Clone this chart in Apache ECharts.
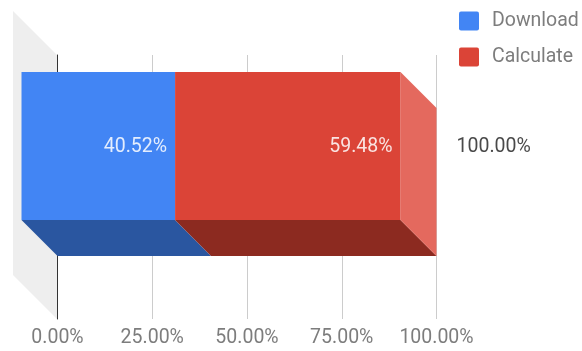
<!DOCTYPE html>
<html>
<head>
<meta charset="utf-8">
<style>html,body{margin:0;padding:0;background:#fff}#c{width:582px;height:351px}</style>
<script src="https://cdn.jsdelivr.net/npm/echarts@6/dist/echarts.min.js"></script>
</head>
<body>
<div id="c"></div>
<script>
var categories = ['Time'];
var downloadValues = [40.52];
var calculateValues = [59.48];
var totalValues = [100];
var tickLabels = ['0.00%', '25.00%', '50.00%', '75.00%', '100.00%'];
var tickValues = [0, 25, 50, 75, 100];

var FONT = 'Roboto';
var FS = 19.5;
var DEPTH = 36, WALL = 44, BAR_RATIO = 148 / 264, BAR_SHIFT = -5;
var LEGEND_ICON = 'path://M2 0H18A2 2 0 0 1 20 2V17A2 2 0 0 1 18 19H2A2 2 0 0 1 0 17V2A2 2 0 0 1 2 0Z';

function pct(v) { return v.toFixed(2) + '%'; }

function boxGeom(api, start, end) {
  var x0 = api.coord([start, 0])[0];
  var x1 = api.coord([end, 0])[0];
  var cy = api.coord([0, 0])[1];
  var h = api.size([0, 1])[1] * BAR_RATIO;
  var backTop = cy + BAR_SHIFT - h / 2;
  var backBottom = backTop + h;
  return { x0: x0, x1: x1, backTop: backTop, backBottom: backBottom, h: h };
}

function segment(name, color, bottomColor, sideColor, values, isLast) {
  return {
    type: 'custom', name: name, coordinateSystem: 'cartesian2d', clip: false, z: 3,
    itemStyle: { color: color },
    encode: { x: 1, y: 2 },
    data: values.map(function (v, i) {
      var start = isLast ? downloadValues[i] : 0;
      return [start, start + v, i, v, totalValues[i]];
    }),
    renderItem: function (params, api) {
      var g = boxGeom(api, api.value(0), api.value(1));
      var fx0 = g.x0 - DEPTH, fx1 = g.x1 - DEPTH, ft = g.backTop - DEPTH, fb = g.backBottom - DEPTH;
      var kids = [{
        type: 'polygon', silent: true,
        shape: { points: [[fx0, fb], [fx1, fb], [g.x1, g.backBottom], [g.x0, g.backBottom]] },
        style: { fill: bottomColor }
      }];
      if (isLast) {
        kids.push({
          type: 'polygon', silent: true,
          shape: { points: [[fx1, ft], [g.x1, g.backTop], [g.x1, g.backBottom], [fx1, fb]] },
          style: { fill: sideColor }
        });
      }
      kids.push({ type: 'rect', shape: { x: fx0, y: ft, width: fx1 - fx0, height: fb - ft }, style: { fill: color } });
      kids.push({
        type: 'text', silent: true, z2: 10,
        style: {
          x: fx1 - 8, y: (ft + fb) / 2 + 1, text: pct(api.value(3)), align: 'right', verticalAlign: 'middle',
          fill: 'rgba(255,255,255,0.85)', font: FS + 'px ' + FONT
        }
      });
      if (isLast) {
        kids.push({
          type: 'text', silent: true, z2: 10,
          style: {
            x: g.x1 + 20, y: (ft + fb) / 2 + 1, text: pct(api.value(4)), align: 'left', verticalAlign: 'middle',
            fill: '#4a4a4a', font: FS + 'px ' + FONT
          }
        });
      }
      return { type: 'group', children: kids };
    }
  };
}

var wallSeries = {
  type: 'custom', name: 'wall', clip: false, z: 1, silent: true,
  encode: { x: 0, y: 1 },
  data: [[0, 0]],
  renderItem: function (params, api) {
    var p = api.coord([0, 0]);
    var half = api.size([0, 1])[1] / 2;
    var x = p[0] - 0.5, t = p[1] - half, b = p[1] + half;
    return {
      type: 'polygon',
      shape: { points: [[x - WALL, t - WALL], [x, t], [x, b], [x - WALL, b - WALL]] },
      style: { fill: '#eeeeee' }
    };
  }
};

var chart = echarts.init(document.getElementById('c'), null, { renderer: 'canvas' });
chart.setOption({
  animation: false,
  backgroundColor: '#fff',
  textStyle: { fontFamily: FONT },
  legend: {
    data: ['Download', 'Calculate'],
    orient: 'vertical', left: 459, top: 11,
    itemWidth: 20, itemHeight: 19, itemGap: 16, padding: 0,
    icon: LEGEND_ICON, selectedMode: false,
    itemStyle: { borderWidth: 0 },
    textStyle: { color: '#7d7d7d', fontFamily: FONT, fontSize: FS, padding: [0, 0, 0, 8] }
  },
  grid: { left: 57.5, right: 145.5, top: 55, height: 264, containLabel: false },
  xAxis: {
    type: 'value', min: 0, max: 100, interval: 25,
    axisLine: { show: false }, axisTick: { show: false },
    splitLine: { show: true, lineStyle: { color: '#cccccc', width: 1 } },
    axisLabel: {
      color: '#7d7d7d', fontFamily: FONT, fontSize: FS, margin: 9,
      hideOverlap: false,
      formatter: function (v) { return tickLabels[tickValues.indexOf(v)]; }
    }
  },
  yAxis: {
    type: 'category', data: categories,
    axisLine: { show: true, lineStyle: { color: '#333333', width: 1 } },
    axisTick: { show: false }, axisLabel: { show: false }, splitLine: { show: false }
  },
  series: [
    wallSeries,
    segment('Download', '#4285F4', '#2A56A0', '#6C9EF6', downloadValues, false),
    segment('Calculate', '#DB4437', '#8C2A20', '#E4695E', calculateValues, true)
  ]
});
</script>
</body>
</html>
